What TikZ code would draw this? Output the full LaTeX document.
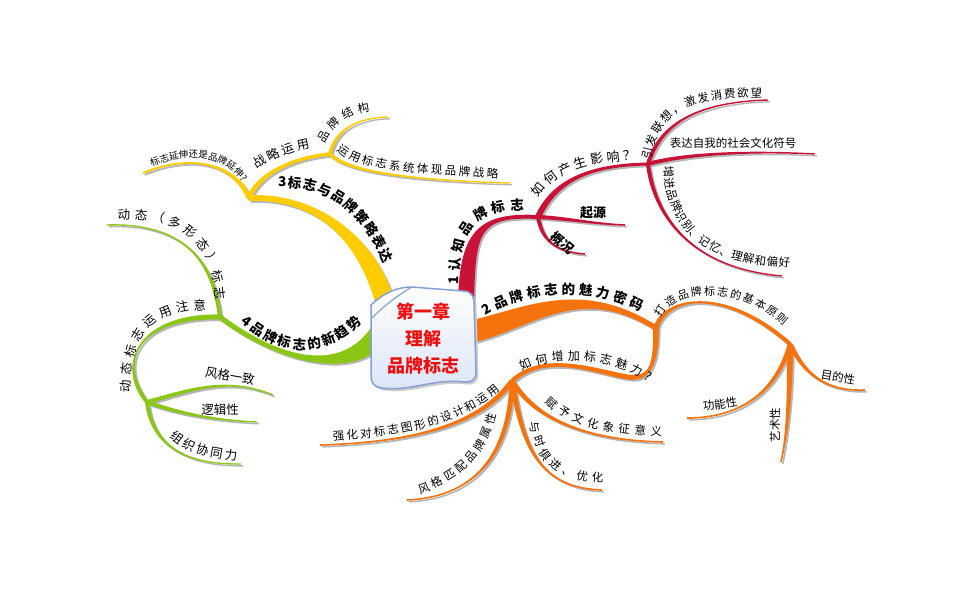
\documentclass[tikz,border=0pt]{standalone}
\usepackage{fontspec}
\setmainfont{Noto Sans CJK SC}
\usetikzlibrary{calc,decorations.text}

\definecolor{redbr}{RGB}{200,18,55}
\definecolor{orangebr}{RGB}{245,115,10}
\definecolor{yellowbr}{RGB}{255,204,0}
\definecolor{greenbr}{RGB}{140,198,20}
\definecolor{shadowgray}{RGB}{182,182,182}
\definecolor{paperline}{RGB}{135,160,212}
\definecolor{paperfill}{RGB}{218,229,247}
\definecolor{titlered}{RGB}{235,16,16}

\newcommand\subfont{\fontsize{11.5}{12}\selectfont}
\newcommand\smallfont{\fontsize{9.5}{10}\selectfont}
\newcommand\midfont{\fontsize{12.5}{13}\selectfont}
\newcommand\topfont{\fontsize{13.5}{14}\selectfont\bfseries}
\newcommand\titlefont{\fontsize{18}{27}\selectfont\bfseries}

\tikzset{
brfill/.style={fill=#1},
leaf/.style={font=\subfont,inner sep=0pt},
boldleaf/.style={font=\fontsize{13}{14}\selectfont\bfseries,inner sep=0pt},
title/.style={font=\titlefont,text=titlered,align=center}
}

% tapered branch: colour, start, control, control, end, half width at start, at end
\newcommand\branch[7]{%
\path (#2) coordinate (tA) (#3) coordinate (tC) (#4) coordinate (tD) (#5) coordinate (tB);
\path ($(tA)!#6!90:(tC)$) coordinate (tAl) ($(tA)!#6!-90:(tC)$) coordinate (tAr)
      ($(tB)!#7!-90:(tD)$) coordinate (tBl) ($(tB)!#7!90:(tD)$) coordinate (tBr);
\fill[brfill=#1] (tAl) .. controls ($(tC)+(tAl)-(tA)$) and ($(tD)+(tBl)-(tB)$) .. (tBl)
  -- (tBr) .. controls ($(tD)+(tBr)-(tB)$) and ($(tC)+(tAr)-(tA)$) .. (tAr) -- cycle;}

% text set along a curve
\newcommand\ontext[3]{\path[decorate,decoration={text along path,text align={fit to path},text={|#1|#2}}] #3;}

\newcommand\allbranches{%
\branch{redbr}{s1}{468,232}{478,214}{cog}{8pt}{2pt}
\branch{orangebr}{s2}{530,318}{580,280}{charm}{11pt}{2.5pt}
\branch{yellowbr}{s3}{370,250}{328,196}{strategy}{9.5pt}{3pt}
\branch{greenbr}{s4}{350,378}{280,362}{trend}{10pt}{2.5pt}
%
\branch{redbr}{cog}{555,180}{590,165}{impact}{3pt}{1.5pt}
\branch{redbr}{cog}{565,218}{595,224}{originEnd}{2pt}{0.8pt}
\branch{redbr}{cog}{542,240}{555,252}{overviewEnd}{2pt}{0.8pt}
\branch{redbr}{impact}{660,125}{695,102}{desireEnd}{2pt}{0.7pt}
\branch{redbr}{impact}{680,155}{740,150}{symbolEnd}{2pt}{0.7pt}
\branch{redbr}{impact}{654,215}{690,268}{memoryEnd}{2pt}{0.7pt}
%
\branch{orangebr}{charm}{664,298}{722,284}{rules}{2.5pt}{2pt}
\branch{orangebr}{charm}{656,365}{650,380}{bend}{2.8pt}{2.5pt}
\branch{orangebr}{bend}{600,373}{545,350}{increase}{2.5pt}{2.2pt}
\branch{orangebr}{rules}{800,365}{818,392}{purposeEnd}{2.2pt}{0.8pt}
\branch{orangebr}{rules}{780,380}{752,418}{functionEnd}{2.2pt}{0.8pt}
\branch{orangebr}{rules}{790,390}{788,430}{artEnd}{3pt}{0.8pt}
\branch{orangebr}{increase}{485,418}{430,442}{designEnd}{2.5pt}{0.8pt}
\branch{orangebr}{increase}{510,450}{478,497}{styleEnd}{2.5pt}{0.8pt}
\branch{orangebr}{increase}{522,440}{535,488}{updateEnd}{2.5pt}{0.8pt}
\branch{orangebr}{increase}{530,410}{570,440}{cultureEnd}{2.5pt}{0.8pt}
%
\branch{yellowbr}{strategy}{238,170}{200,150}{extendEnd}{2.5pt}{1pt}
\branch{yellowbr}{strategy}{258,175}{290,158}{use}{2.5pt}{1.8pt}
\branch{yellowbr}{use}{334,135}{350,118}{structEnd}{1.8pt}{0.7pt}
\branch{yellowbr}{use}{345,170}{400,180}{systemEnd}{1.8pt}{0.7pt}
%
\branch{greenbr}{trend}{215,280}{200,222}{dynamicEnd}{2pt}{0.7pt}
\branch{greenbr}{trend}{140,315}{115,362}{notice}{2.5pt}{2pt}
\branch{greenbr}{notice}{185,392}{225,375}{unifyEnd}{2pt}{0.7pt}
\branch{greenbr}{notice}{175,412}{210,420}{logicEnd}{2pt}{0.7pt}
\branch{greenbr}{notice}{152,445}{185,465}{synergyEnd}{2pt}{0.7pt}
}

\newcommand\paperpath{(371,305) .. controls (385,292) and (398,287) .. (412,287) -- (463,291)
  .. controls (471,291) and (474,296) .. (474,303) -- (476,372) .. controls (476,380) and (471,383) .. (464,382)
  .. controls (435,378) and (410,392) .. (382,388) .. controls (374,387) and (371,383) .. (371,376) -- cycle}

\begin{document}
\begin{tikzpicture}[x=1pt,y=-1pt]
\useasboundingbox (0,0) rectangle (962,600);

\coordinate (s1) at (466,300);
\coordinate (s2) at (470,332);
\coordinate (s3) at (385,302);
\coordinate (s4) at (380,332);
\coordinate (cog) at (538,217);
\coordinate (impact) at (648,164);
\coordinate (charm) at (656,328);
\coordinate (rules) at (790,344);
\coordinate (bend) at (628,377);
\coordinate (increase) at (512,381);
\coordinate (strategy) at (249,198);
\coordinate (use) at (330,154);
\coordinate (trend) at (220,317);
\coordinate (notice) at (147,402);
\coordinate (originEnd) at (625,225);
\coordinate (overviewEnd) at (585,254);
\coordinate (desireEnd) at (768,100);
\coordinate (symbolEnd) at (815,154);
\coordinate (memoryEnd) at (782,276);
\coordinate (purposeEnd) at (865,390);
\coordinate (functionEnd) at (687,418);
\coordinate (artEnd) at (781,462);
\coordinate (designEnd) at (320,445);
\coordinate (styleEnd) at (407,500);
\coordinate (updateEnd) at (602,490);
\coordinate (cultureEnd) at (663,442);
\coordinate (extendEnd) at (143,173);
\coordinate (structEnd) at (388,117);
\coordinate (systemEnd) at (510,183);
\coordinate (dynamicEnd) at (107,225);
\coordinate (unifyEnd) at (273,395);
\coordinate (logicEnd) at (257,422);
\coordinate (synergyEnd) at (241,464);

\begin{scope}[transform canvas={xshift=1.8pt,yshift=-1.8pt},brfill/.style={fill=shadowgray}]
\allbranches
\end{scope}
\allbranches

% centre sheet
\fill[shadowgray!70,transform canvas={xshift=2.5pt,yshift=-2.5pt}] \paperpath;
\path[draw=paperline,line width=1.5pt,top color=white,bottom color=paperfill] \paperpath;
\draw[paperline,line width=1.2pt] (372,318) .. controls (385,305) and (398,295) .. (412,287);
\node[title] (centre) at (423,339) {第一章\\理解\\品牌标志};

% 1
\ontext{\topfont}{1认知品牌标志}{(459,284) .. controls (460,232) and (472,210) .. (524,210)}
\ontext{\fontsize{13}{14}\selectfont}{如何产生影响？}{(538,198) .. controls (556,172) and (585,162) .. (636,160)}
\node[boldleaf] (origin) at (593,213) {起源};
\node[boldleaf,rotate=-40] (overview) at (563,243) {概况};
\ontext{\subfont}{引发联想，激发消费欲望}{(651,160) .. controls (660,110) and (690,97) .. (762,97)}
\node[leaf] (symbol) at (733,143) {表达自我的社会文化符号};
\ontext{\subfont}{增进品牌识别、记忆、理解和偏好}{(664,166) .. controls (666,226) and (701,266) .. (790,267)}

% 2
\ontext{\topfont}{2品牌标志的魅力密码}{(486,316) .. controls (522,292) and (590,284) .. (640,312)}
\ontext{\fontsize{11}{12}\selectfont}{打造品牌标志的基本原则}{(661,318) .. controls (672,290) and (738,283) .. (784,326)}
\node[leaf,rotate=-10] (purpose) at (838,377) {目的性};
\node[leaf,rotate=8] (function) at (720,404) {功能性};
\node[leaf,rotate=90] (art) at (775,425) {艺术性};
\ontext{\fontsize{12}{13}\selectfont}{如何增加标志魅力?}{(522,371) .. controls (556,354) and (615,358) .. (648,382)}
\ontext{\subfont}{强化对标志图形的设计和运用}{(333,440) .. controls (420,436) and (470,418) .. (500,390)}
\ontext{\subfont}{风格匹配品牌属性}{(420,494) .. controls (460,480) and (486,458) .. (496,414)}
\ontext{\subfont}{与时俱进、优化}{(530,422) .. controls (536,462) and (555,481) .. (603,482)}
\ontext{\subfont}{赋予文化象征意义}{(545,402) .. controls (568,426) and (600,434) .. (662,436)}

% 3
\ontext{\topfont}{3标志与品牌策略表达}{(278,187) .. controls (322,187) and (358,202) .. (384,264)}
\ontext{\smallfont}{标志延伸还是品牌延伸?}{(152,167) .. controls (185,152) and (224,154) .. (242,182)}
\ontext{\midfont}{战略运用}{(257,169) .. controls (273,159) and (289,152) .. (310,148)}
\ontext{\subfont}{品牌结构}{(325,144) .. controls (334,125) and (348,114) .. (370,111)}
\ontext{\subfont}{运用标志系统体现品牌战略}{(337,150) .. controls (355,168) and (390,172) .. (498,178)}

% 4
\ontext{\topfont}{4品牌标志的新趋势}{(241,322) .. controls (274,352) and (320,365) .. (362,322)}
\ontext{\midfont}{动态（多形态）标志}{(118,220) .. controls (182,216) and (212,242) .. (216,300)}
\ontext{\midfont}{动态标志运用注意}{(131,392) .. controls (128,330) and (158,310) .. (206,310)}
\node[leaf,font=\midfont,rotate=-10] (unify) at (230,376) {风格一致};
\node[leaf,font=\midfont] (logic) at (220,410) {逻辑性};
\ontext{\midfont}{组织协同力}{(170,437) .. controls (185,450) and (205,459) .. (237,460)}

\end{tikzpicture}
\end{document}
